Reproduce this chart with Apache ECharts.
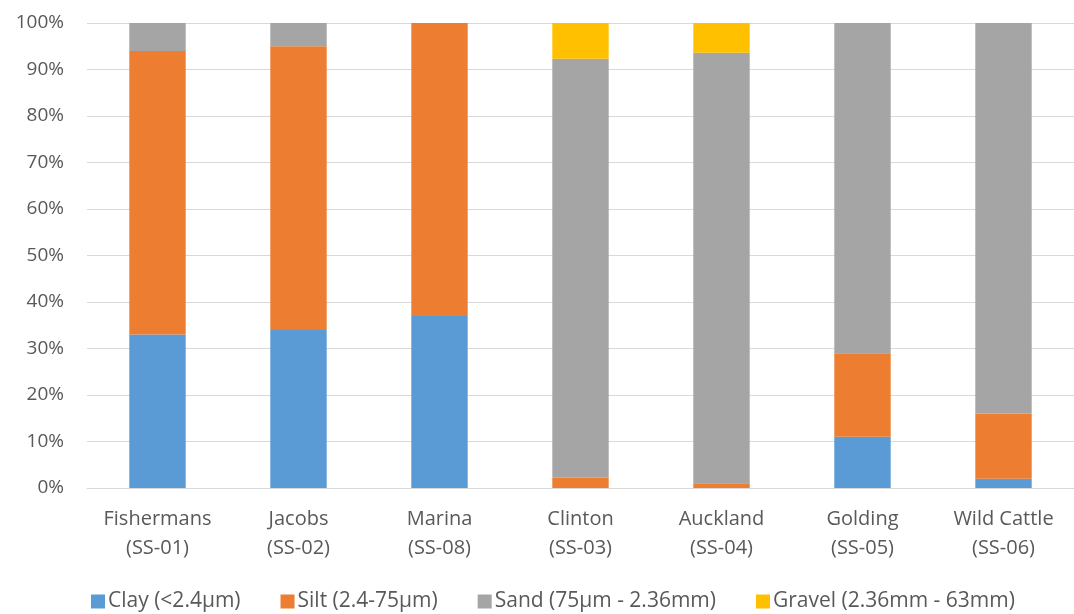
<!DOCTYPE html>
<html><head><meta charset="utf-8">
<script src="https://cdn.jsdelivr.net/npm/echarts@6/dist/echarts.min.js"></script>
<style>html,body{margin:0;padding:0;background:#fff}#c{width:1074px;height:614px}</style>
</head><body><div id="c"></div>
<script>
const categories = ['Fishermans\n(SS-01)','Jacobs\n(SS-02)','Marina\n(SS-08)','Clinton\n(SS-03)','Auckland\n(SS-04)','Golding\n(SS-05)','Wild Cattle\n(SS-06)'];
const clay   = [33, 34, 37, 0, 0, 11, 2];
const silt   = [61, 61, 63, 2.2, 1, 18, 14];
const sand   = [6, 5, 0, 90.1, 92.6, 71, 84];
const gravel = [0, 0, 0, 7.7, 6.4, 0, 0];
const yTicks = [0,10,20,30,40,50,60,70,80,90,100];

const font = "'Open Sans',sans-serif";
const names = ['Clay (<2.4µm)','Silt (2.4-75µm)','Sand (75µm - 2.36mm)','Gravel (2.36mm - 63mm)'];
const colors = ['#5B9BD5','#ED7D31','#A5A5A5','#FFC000'];
const data = [clay, silt, sand, gravel];

const chart = echarts.init(document.getElementById('c'));
chart.setOption({
  animation:false,
  textStyle:{fontFamily:font},
  grid:{left:87,right:-1,top:23,bottom:126,containLabel:false},
  legend:{bottom:-3,left:86,itemWidth:14,itemHeight:14,itemGap:40,icon:'rect',
    textStyle:{fontSize:21,color:'#595959',fontFamily:font,padding:[0,0,0,-2]},data:names},
  xAxis:{type:'category',data:categories,
    axisLine:{show:true,lineStyle:{color:'#D9D9D9',width:1}},
    axisTick:{show:false},
    axisLabel:{fontSize:20,color:'#595959',lineHeight:29,margin:17,fontFamily:font}},
  yAxis:{type:'value',min:0,max:100,interval:10,
    axisLabel:{formatter:v=>yTicks.includes(v)?v+'%':'',fontSize:19,color:'#595959',margin:23,fontFamily:font},
    splitLine:{lineStyle:{color:'#D9D9D9',width:1}},
    axisLine:{show:false},axisTick:{show:false}},
  series:data.map((d,i)=>({name:names[i],type:'bar',stack:'a',data:d,barWidth:'40%',
    itemStyle:{color:colors[i]}}))
});
</script></body></html>
